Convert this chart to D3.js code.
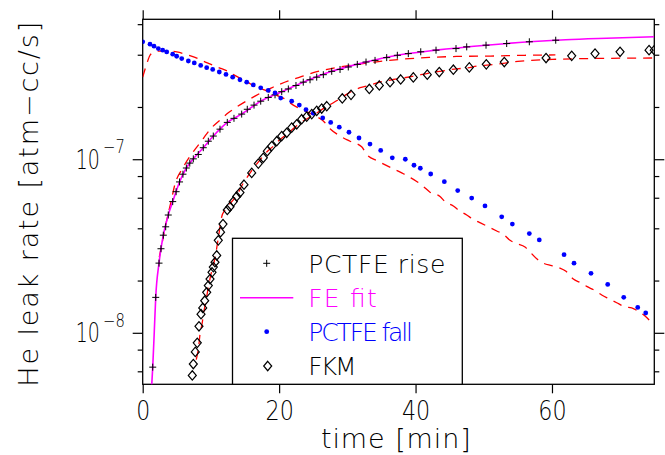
<!DOCTYPE html>
<html>
<head>
<meta charset="utf-8">
<script src="https://cdn.jsdelivr.net/npm/d3@7"></script>
<style>
  body { margin: 0; background: #fff; }
  text { font-family: "DejaVu Sans", sans-serif; font-weight: 200; fill: #000; }
</style>
</head>
<body>
<div id="leak_chart"></div>
<script>
// all rates below are in units of 1e-7 atm-cc/s, times in minutes
var unit = 1e-7;

// PCTFE rise (+ markers)
var riseTime = [1.47, 1.91, 2.39, 2.68, 3.02, 3.37, 3.75, 4.40, 4.90, 5.40, 5.90, 6.40, 6.90, 7.42, 8.15, 8.88,
  9.62, 10.35, 11.33, 12.40, 13.38, 14.51, 15.33, 16.32, 17.30, 18.41, 19.40, 20.38, 21.35, 22.47, 23.54,
  24.53, 25.51, 26.48, 27.71, 28.93, 30.14, 31.46, 32.74, 34.06, 35.77, 37.33, 38.94, 40.76, 43.00, 45.93,
  47.50, 50.33, 53.36, 56.68, 60.55];
var riseRate = [0.0634, 0.160, 0.252, 0.305, 0.365, 0.408, 0.477, 0.570, 0.650, 0.740, 0.820, 0.890, 0.950, 1.005,
  1.065, 1.165, 1.27, 1.36, 1.49, 1.63, 1.72, 1.82, 1.94, 2.05, 2.16, 2.27, 2.35, 2.45, 2.54, 2.66, 2.78,
  2.87, 2.97, 3.07, 3.21, 3.29, 3.40, 3.52, 3.63, 3.71, 3.85, 3.97, 4.06, 4.16, 4.25, 4.34,
  4.44, 4.54, 4.64, 4.75, 4.85];

// FE fit (magenta line)
var fitTime = [1.30, 1.47, 1.70, 1.91, 2.39, 3.02, 3.75, 4.40, 5.40, 6.40, 7.42, 8.88, 10.35, 12.40, 14.51,
  17.30, 20.38, 23.54, 27.71, 32.74, 37.33, 43.00, 50.33, 56.68, 62.0, 68.0, 75.0];
var fitRate = [0.048, 0.0634, 0.102, 0.160, 0.252, 0.365, 0.477, 0.570, 0.740, 0.890, 1.005, 1.165, 1.36, 1.63, 1.82,
  2.16, 2.45, 2.78, 3.21, 3.63, 3.97, 4.25, 4.54, 4.75, 4.88, 4.98, 5.08];

// PCTFE fall (blue dots)
var fallTime = [0.00, 1.07, 1.66, 2.29, 2.93, 3.52, 4.40, 4.98, 5.72, 6.69, 7.56, 8.50, 9.38, 10.26, 11.23,
  12.21, 13.19, 14.26, 15.25, 16.21, 17.30, 18.41, 19.40, 20.23, 21.84, 22.96, 23.94, 25.01, 26.39, 27.56,
  28.82, 30.24, 31.71, 33.32, 34.89, 36.59, 38.50, 39.77, 40.70, 42.22, 44.22, 46.18, 48.23, 50.18, 52.63,
  54.19, 56.68, 58.14, 61.77, 63.23, 65.72, 68.17, 70.52, 72.57, 73.74];
var fallRate = [4.75, 4.60, 4.48, 4.34, 4.25, 4.15, 4.03, 3.92, 3.80, 3.68, 3.59, 3.47, 3.37, 3.29, 3.18,
  3.08, 2.97, 2.87, 2.78, 2.68, 2.58, 2.49, 2.41, 2.25, 2.16, 2.05, 1.93, 1.84, 1.73, 1.63,
  1.53, 1.43, 1.325, 1.222, 1.124, 1.019, 1.00, 0.923, 0.887, 0.822, 0.742, 0.660, 0.597, 0.538, 0.466,
  0.423, 0.373, 0.343, 0.282, 0.252, 0.220, 0.190, 0.160, 0.140, 0.130];

// FKM (diamonds)
var fkmTime = [7.27, 7.42, 7.71, 8.00, 8.25, 8.55, 8.80, 9.09, 9.38, 9.62, 9.87, 10.16, 10.35, 10.60, 10.85,
  11.08, 11.41, 11.77, 12.40, 12.80, 13.28, 13.78, 14.26, 14.85, 15.98, 16.95, 17.68, 18.27, 18.91, 19.65,
  20.38, 21.11, 21.84, 22.58, 23.31, 24.04, 24.78, 25.51, 26.24, 26.98, 29.26, 30.54, 33.22, 34.69, 36.26,
  37.82, 39.67, 41.72, 43.48, 45.54, 47.88, 50.37, 53.01, 59.13, 62.89, 66.31, 69.98, 74.23, 75.0];
var fkmRate = [0.0568, 0.0661, 0.0776, 0.0875, 0.109, 0.128, 0.139, 0.153, 0.171, 0.187, 0.204, 0.223, 0.239, 0.255, 0.279,
  0.341, 0.380, 0.423, 0.510, 0.533, 0.570, 0.610, 0.643, 0.713, 0.834, 0.944, 1.019, 1.113, 1.19, 1.27,
  1.36, 1.42, 1.52, 1.59, 1.70, 1.76, 1.82, 1.90, 1.96, 2.02, 2.24, 2.35, 2.54, 2.66, 2.78,
  2.88, 2.96, 3.07, 3.18, 3.28, 3.38, 3.52, 3.63, 3.83, 3.94, 4.06, 4.16, 4.25, 4.25];

// red dashed model curves (no legend entry)
var riseModelTime = [2.43, 2.73, 3.02, 3.31, 3.75, 4.10, 4.74, 5.8, 6.93, 7.67, 8.65, 9.38, 10.12, 11.33, 12.55,
  13.78, 15.25, 16.46, 17.68, 18.91, 20.13, 21.35, 22.58, 23.79, 25.01, 26.24, 27.46, 28.68, 30.4, 34.0,
  38.0, 42.0, 46.0, 51.0, 56.0, 60.5];
var riseModelRate = [0.273, 0.312, 0.357, 0.408, 0.488, 0.558, 0.72, 0.88, 1.04, 1.14, 1.28, 1.40, 1.52, 1.68, 1.85,
  2.00, 2.17, 2.31, 2.45, 2.58, 2.71, 2.83, 2.93, 3.04, 3.15, 3.24, 3.32, 3.39, 3.47, 3.63,
  3.77, 3.86, 3.91, 3.93, 3.97, 3.99];

var fkmModelTime = [7.85, 8.21, 8.40, 8.69, 8.99, 9.28, 9.62, 9.91, 10.6, 11.08, 11.58, 12.07, 13.28, 13.78, 14.75,
  15.25, 16.46, 17.2, 18.18, 19.15, 20.13, 21.11, 22.58, 23.54, 25.26, 26.24, 27.46, 28.68, 30.0, 31.37,
  32.84, 34.79, 36.74, 38.2, 39.67, 42.12, 43.59, 46.03, 47.5, 48.97, 51.4, 55.0, 60.0, 65.0, 70.0, 75.0];
var fkmModelRate = [0.070, 0.0837, 0.098, 0.112, 0.134, 0.153, 0.183, 0.209, 0.27, 0.35, 0.466, 0.510, 0.583, 0.62, 0.729,
  0.780, 0.911, 0.99, 1.10, 1.19, 1.30, 1.39, 1.56, 1.66, 1.82, 1.93, 2.06, 2.20, 2.38, 2.54,
  2.64, 2.78, 2.88, 2.94, 3.01, 3.14, 3.21, 3.32, 3.35, 3.44, 3.51, 3.66, 3.76, 3.80, 3.82, 3.83];

var fallModelTime = [0, 0.6, 1.07, 1.5, 2.5, 3.6, 5.0, 6.45, 7.67, 9.38, 11.08, 12.55, 13.78, 15.25, 16.46,
  17.93, 19.65, 20.61, 22.08, 25.01, 26.48, 27.46, 28.68, 30.4, 32.1, 32.84, 34.54, 37.97, 39.19, 40.17,
  41.14, 42.12, 43.59, 44.32, 45.54, 46.27, 47.5, 48.47, 49.5, 50.67, 51.9, 52.87, 53.85, 54.83, 56.05,
  56.78, 57.76, 58.73, 59.96, 61.03, 62.06, 63.13, 64.11, 65.09, 66.31, 67.29, 68.51, 69.49, 70.71, 71.69,
  72.91, 73.64, 74.86];
var fallModelRate = [2.97, 3.55, 3.97, 4.12, 4.20, 4.20, 4.15, 4.01, 3.86, 3.60, 3.38, 3.20, 3.00, 2.80, 2.62,
  2.50, 2.33, 2.25, 2.05, 1.80, 1.66, 1.50, 1.38, 1.27, 1.18, 1.065, 0.973, 0.834, 0.786, 0.745,
  0.697, 0.646, 0.610, 0.570, 0.538, 0.510, 0.477, 0.450, 0.430, 0.408, 0.386, 0.370, 0.341, 0.327, 0.312,
  0.292, 0.267, 0.252, 0.244, 0.237, 0.226, 0.204, 0.195, 0.185, 0.175, 0.165, 0.156, 0.149, 0.141, 0.139,
  0.131, 0.125, 0.111];

// axis settings
var xDomain = [0, 75];
var yDomain = [5.05e-9, 6.4e-7];
var xTicks = [0, 20, 40, 60];
var yMajor = [1e-8, 1e-7];
var yMajorExp = ["\u22128", "\u22127"];
var yMinor = [6e-9, 8e-9, 2e-8, 4e-8, 6e-8, 8e-8, 2e-7, 4e-7, 6e-7];

var legendNames = ["PCTFE rise", "FE fit", "PCTFE fall", "FKM"];

// set the dimensions and margins of the graph
var margin = ({top: 19.3, right: 10.7, bottom: 70.7, left: 142.7}),
    width = 665 - margin.left - margin.right,
    height = 455 - margin.top - margin.bottom;

let svg = d3.select("#leak_chart")
  .append("svg")
    .attr("width", width + margin.left + margin.right)
    .attr("height", height + margin.top + margin.bottom)
  .append("g")
    .attr("transform", "translate(" + margin.left + "," + margin.top + ")");

let x = d3.scaleLinear().domain(xDomain).range([0, width]);
let y = d3.scaleLog().domain(yDomain).range([height, 0]);

svg.append("clipPath").attr("id", "plotclip")
  .append("rect").attr("width", width).attr("height", height);

function pairs(t, r) { return t.map((d, i) => ({t: d, v: r[i] * unit})); }

// axes: ticks only, frame drawn separately
function bare(g) {
  g.select(".domain").remove();
  g.selectAll("line").attr("stroke", "#000").attr("stroke-width", 1.2);
}
svg.append("g").attr("transform", "translate(0," + height + ")")
  .call(d3.axisBottom(x).tickValues(xTicks).tickSize(9).tickPadding(7.5))
  .call(bare)
  .selectAll("text")
    .attr("font-size", 27).attr("font-family", null).attr("fill", null)
    .attr("textLength", d => d == 0 ? 14 : 28.3)
    .attr("lengthAdjust", "spacingAndGlyphs");
svg.append("g")
  .call(d3.axisTop(x).tickValues(xTicks).tickSize(9).tickFormat(""))
  .call(bare);

svg.append("g").call(d3.axisLeft(y).tickValues(yMinor).tickSize(5).tickFormat("")).call(bare);
svg.append("g").call(d3.axisLeft(y).tickValues(yMajor).tickSize(10).tickFormat("")).call(bare);
svg.append("g").attr("transform", "translate(" + width + ",0)")
  .call(d3.axisRight(y).tickValues(yMinor).tickSize(5).tickFormat("")).call(bare);
svg.append("g").attr("transform", "translate(" + width + ",0)")
  .call(d3.axisRight(y).tickValues(yMajor).tickSize(10).tickFormat("")).call(bare);

// 10^-n labels: narrowed with a scale so the boxes stay apart
yMajor.forEach((d, i) => {
  svg.append("text")
    .attr("transform", "translate(-42.8," + (y(d) + 9.5) + ")scale(0.7,1)")
    .attr("text-anchor", "end")
    .attr("font-size", 27)
    .text("10");
  svg.append("text")
    .attr("transform", "translate(-39.6," + (y(d) - 6) + ")scale(0.78,1)")
    .attr("font-size", 19)
    .text(yMajorExp[i]);
});

// frame
svg.append("rect")
  .attr("width", width).attr("height", height)
  .attr("fill", "none").attr("stroke", "#000").attr("stroke-width", 1.3);

// axis titles
svg.append("text")
  .attr("x", 395.9 - margin.left).attr("y", 448 - margin.top)
  .attr("text-anchor", "middle").attr("font-size", 27)
  .attr("textLength", 150).attr("lengthAdjust", "spacing")
  .text("time  [min]");
svg.append("text")
  .attr("transform", "translate(" + (38.3 - margin.left) + "," + (204.2 - margin.top) + ")rotate(-90)")
  .attr("text-anchor", "middle").attr("font-size", 27)
  .attr("textLength", 365).attr("lengthAdjust", "spacing")
  .text("He  leak  rate  [atm\u2212cc/s]");

// lines
let plot = svg.append("g").attr("clip-path", "url(#plotclip)");
let line = d3.line().x(d => x(d.t)).y(d => y(d.v)).curve(d3.curveMonotoneX);

[[riseModelTime, riseModelRate], [fkmModelTime, fkmModelRate], [fallModelTime, fallModelRate]].forEach(s => {
  plot.append("path")
    .datum(pairs(s[0], s[1]))
    .attr("d", line)
    .attr("fill", "none").attr("stroke", "#ff0000")
    .attr("stroke-width", 1.3).attr("stroke-dasharray", "9,7");
});

plot.append("path")
  .datum(pairs(fitTime, fitRate))
  .attr("d", line)
  .attr("fill", "none").attr("stroke", "#ff00ff").attr("stroke-width", 1.6);

// markers
var plusPath = "M-3.5,0H3.5M0,-3.5V3.5";
var diamondPath = "M0,-4.7L4,0L0,4.7L-4,0Z";

plot.selectAll(".rise").data(pairs(riseTime, riseRate)).enter()
  .append("path")
    .attr("transform", d => "translate(" + x(d.t) + "," + y(d.v) + ")")
    .attr("d", plusPath).attr("stroke", "#000").attr("stroke-width", 1);

plot.selectAll(".fall").data(pairs(fallTime, fallRate)).enter()
  .append("circle")
    .attr("cx", d => x(d.t)).attr("cy", d => y(d.v))
    .attr("r", 2.4).attr("fill", "#0000ff");

plot.selectAll(".fkm").data(pairs(fkmTime, fkmRate)).enter()
  .append("path")
    .attr("transform", d => "translate(" + x(d.t) + "," + y(d.v) + ")")
    .attr("d", diamondPath).attr("fill", "none").attr("stroke", "#000").attr("stroke-width", 1.2);

// legend
let lg = svg.append("g").attr("transform", "translate(" + (232.5 - margin.left) + "," + (238.3 - margin.top) + ")");
lg.append("rect").attr("width", 229.8).attr("height", 146)
  .attr("fill", "#fff").attr("stroke", "#000").attr("stroke-width", 1.3);

var rowY = [25, 59.4, 93.4, 127.7];
var legendColor = ["#000", "#ff00ff", "#0000ff", "#000"];
var legendWidth = [137, 68.4, 104.7, 48.4];

lg.append("path").attr("transform", "translate(34.2," + rowY[0] + ")")
  .attr("d", plusPath).attr("stroke", "#000").attr("stroke-width", 1);
lg.append("line").attr("x1", 7.5).attr("x2", 60.8).attr("y1", rowY[1]).attr("y2", rowY[1])
  .attr("stroke", "#ff00ff").attr("stroke-width", 1.6);
lg.append("circle").attr("cx", 34.2).attr("cy", rowY[2]).attr("r", 2.4).attr("fill", "#0000ff");
lg.append("path").attr("transform", "translate(35.2," + rowY[3] + ")")
  .attr("d", diamondPath).attr("fill", "none").attr("stroke", "#000").attr("stroke-width", 1.2);

legendNames.forEach((n, i) => {
  lg.append("text")
    .attr("x", 75.8).attr("y", rowY[i] + 9.5)
    .attr("font-size", 25)
    .attr("textLength", legendWidth[i]).attr("lengthAdjust", "spacing")
    .style("fill", legendColor[i])
    .text(n);
});
</script>
</body>
</html>
